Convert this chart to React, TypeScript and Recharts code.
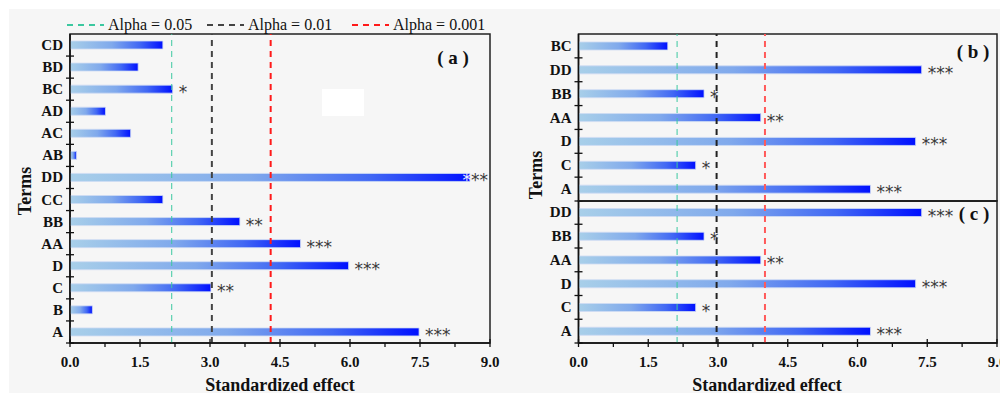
import React from "react";
import { BarChart, Bar, XAxis, YAxis, ReferenceLine, ReferenceArea, LabelList } from "recharts";

// panel (a)
const termsA = ["CD", "BD", "BC", "AD", "AC", "AB", "DD", "CC", "BB", "AA", "D", "C", "B", "A"];
const effectsA = [1.99, 1.46, 2.2, 0.76, 1.3, 0.14, 8.57, 1.99, 3.64, 4.94, 5.97, 3.02, 0.48, 7.48];
const starsA = ["", "", "*", "", "", "", "***", "", "**", "***", "***", "**", "", "***"];
const limitsA = [2.18, 3.04, 4.3];

// panel (b)
const termsB = ["BC", "DD", "BB", "AA", "D", "C", "A"];
const effectsB = [1.92, 7.38, 2.7, 3.92, 7.25, 2.52, 6.28];
const starsB = ["", "***", "*", "**", "***", "*", "***"];

// panel (c)
const termsC = ["DD", "BB", "AA", "D", "C", "A"];
const effectsC = [7.38, 2.7, 3.92, 7.25, 2.52, 6.28];
const starsC = ["***", "*", "**", "***", "*", "***"];
const limitsBC = [2.12, 2.97, 4.01];

const alphaLabels = ["Alpha = 0.05", "Alpha = 0.01", "Alpha = 0.001"];
const majorTicks = [0, 1.5, 3, 4.5, 6, 7.5, 9];
const minorTicks = [0.75, 2.25, 3.75, 5.25, 6.75, 8.25];
const allTicks = [...majorTicks, ...minorTicks].sort((a, b) => a - b);

const SERIF = "'Liberation Serif', 'Times New Roman', serif";
const BG = "#f6f6f6";

interface PanelProps {
  id: string;
  terms: string[];
  effects: number[];
  stars: string[];
  limits: number[];
  limitColors: string[];
  width: number;
  height: number;
  margin: { top: number; right: number; bottom: number; left: number };
  yWidth: number;
  showXTicks: boolean;
}

const Panel = ({ id, terms, effects, stars, limits, limitColors, width, height, margin, yWidth, showXTicks }: PanelProps) => {
  const data = terms.map((t, i) => ({ term: t, value: effects[i], sig: stars[i] }));
  const xH = showXTicks ? 50 : 1;
  const plotH = height - margin.top - margin.bottom - xH;
  const band = plotH / terms.length;
  const plotRight = width - margin.right;

  const TermTick = (p: any) => (
    <g>
      <text x={p.x - 7} y={p.y} dy={5} textAnchor="end" fontFamily={SERIF} fontWeight="bold" fontSize={15} fill="#111">
        {p.payload.value}
      </text>
      <line x1={p.x - 4} x2={p.x + 4} y1={p.y + band / 2} y2={p.y + band / 2} stroke="#111" strokeWidth={1.3} />
    </g>
  );

  const EffectTick = (p: any) => {
    const major = majorTicks.includes(p.payload.value);
    return (
      <g>
        <line x1={p.x} x2={p.x} y1={major ? p.y - 4 : p.y} y2={p.y + 4} stroke="#111" strokeWidth={1.3} />
        {major && (
          <text x={p.x} y={p.y + 24} textAnchor="middle" fontFamily={SERIF} fontWeight="bold" fontSize={15} fill="#111">
            {p.payload.value.toFixed(1)}
          </text>
        )}
      </g>
    );
  };

  const StarLabel = (p: any) => {
    const { x, y, width: w, height: h, value } = p;
    if (!value) return null;
    const end = x + w;
    const tw = value.length * 8.5;
    let tx = end + 6;
    let overlap = false;
    if (tx + tw > plotRight - 2) {
      tx = plotRight - 2 - tw;
      overlap = true;
    }
    return (
      <text x={tx} y={y + h / 2 + 9} fontFamily="'DejaVu Sans', sans-serif" fontSize={17} fill="#3a3a3a">
        {overlap ? (
          <>
            <tspan fill="#e8ecff">*</tspan>
            {value.slice(1)}
          </>
        ) : (
          value
        )}
      </text>
    );
  };

  return (
    <BarChart width={width} height={height} data={data} layout="vertical" margin={margin} barCategoryGap={0}>
      <defs>
        <linearGradient id={`grad-${id}`} x1="0" y1="0" x2="1" y2="0">
          <stop offset="0%" stopColor="#a8cfe9" />
          <stop offset="45%" stopColor="#80a9ec" />
          <stop offset="75%" stopColor="#4168f4" />
          <stop offset="100%" stopColor="#0010ff" />
        </linearGradient>
      </defs>
      <XAxis
        type="number"
        domain={[0, 9]}
        ticks={showXTicks ? allTicks : []}
        interval={0}
        height={xH}
        tickSize={0}
        tickMargin={0}
        tick={showXTicks ? <EffectTick /> : false}
        axisLine={{ stroke: "#111", strokeWidth: 1.5 }}
        allowDataOverflow
      />
      <YAxis
        type="category"
        dataKey="term"
        width={yWidth}
        interval={0}
        tickSize={0}
        tickMargin={0}
        tick={<TermTick />}
        axisLine={{ stroke: "#111", strokeWidth: 1.5 }}
      />
      <ReferenceArea x1={0} x2={9} fill="none" stroke="#222" strokeWidth={1.5} fillOpacity={0} />
      <Bar dataKey="value" barSize={8} fill={`url(#grad-${id})`} stroke="#cfdcf4" strokeWidth={0.8} isAnimationActive={false}>
        <LabelList dataKey="sig" content={<StarLabel />} />
      </Bar>
      {limits.map((v, i) => (
        <ReferenceLine
          key={i}
          x={v}
          stroke={limitColors[i]}
          strokeWidth={i === 0 ? 1 : 2}
          strokeDasharray="6 5"
          ifOverflow="extendDomain"
        />
      ))}
    </BarChart>
  );
};

const colorsA = ["#3cc8a0", "#444444", "#ff1a1a"];
const colorsBC = ["#3cc8a0", "#222222", "#ff5a5a"];

export default function App() {
  const legendX = [67, 207, 352];
  return (
    <div style={{ position: "absolute", left: 0, top: 0, width: 1000, height: 393, background: "#ffffff", overflow: "hidden" }}>
      <div style={{ position: "absolute", left: 9, top: 9, width: 991, height: 384, background: BG }} />
      <div style={{ position: "absolute", left: 0, top: 0 }}>
        <Panel
          id="a"
          terms={termsA}
          effects={effectsA}
          stars={starsA}
          limits={limitsA}
          limitColors={colorsA}
          width={500}
          height={393}
          margin={{ top: 34, right: 10, bottom: 0, left: 0 }}
          yWidth={70}
          showXTicks
        />
      </div>
      <div style={{ position: "absolute", left: 500, top: 0 }}>
        <Panel
          id="b"
          terms={termsB}
          effects={effectsB}
          stars={starsB}
          limits={limitsBC}
          limitColors={colorsBC}
          width={500}
          height={202}
          margin={{ top: 34, right: 3, bottom: 0, left: 0 }}
          yWidth={78.5}
          showXTicks={false}
        />
      </div>
      <div style={{ position: "absolute", left: 500, top: 200 }}>
        <Panel
          id="c"
          terms={termsC}
          effects={effectsC}
          stars={starsC}
          limits={limitsBC}
          limitColors={colorsBC}
          width={500}
          height={193}
          margin={{ top: 0.5, right: 3, bottom: 0, left: 0 }}
          yWidth={78.5}
          showXTicks
        />
      </div>
      <svg width={1000} height={393} style={{ position: "absolute", left: 0, top: 0, pointerEvents: "none" }}>
        {alphaLabels.map((label, i) => (
          <g key={label}>
            <line x1={legendX[i]} x2={legendX[i] + 37} y1={25} y2={25} stroke={colorsA[i]} strokeWidth={2} strokeDasharray="6 5" />
            <text x={legendX[i] + 41} y={30} fontFamily={SERIF} fontSize={16} fill="#111">
              {label}
            </text>
          </g>
        ))}
        <rect x={322} y={89} width={42} height={27} fill="#ffffff" />
        <text x={453} y={64} textAnchor="middle" fontFamily={SERIF} fontWeight="bold" fontSize={19} fill="#111">( a )</text>
        <text x={973} y={58} textAnchor="middle" fontFamily={SERIF} fontWeight="bold" fontSize={19} fill="#111">( b )</text>
        <text x={974} y={220} textAnchor="middle" fontFamily={SERIF} fontWeight="bold" fontSize={19} fill="#111">( c )</text>
        <text transform="translate(31,191) rotate(-90)" textAnchor="middle" fontFamily={SERIF} fontWeight="bold" fontSize={18} fill="#111">Terms</text>
        <text transform="translate(542,175) rotate(-90)" textAnchor="middle" fontFamily={SERIF} fontWeight="bold" fontSize={18} fill="#111">Terms</text>
        <text x={280} y={391} textAnchor="middle" fontFamily={SERIF} fontWeight="bold" fontSize={18} fill="#111">Standardized effect</text>
        <text x={767} y={391} textAnchor="middle" fontFamily={SERIF} fontWeight="bold" fontSize={18} fill="#111">Standardized effect</text>
      </svg>
    </div>
  );
}
